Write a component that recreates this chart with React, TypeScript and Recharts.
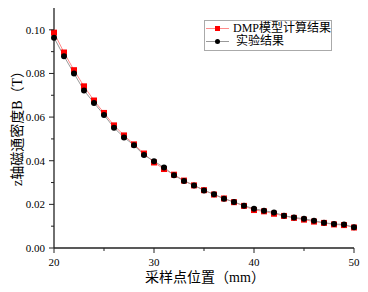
import React from 'react';
import { LineChart, Line, XAxis, YAxis, Legend } from 'recharts';

const positions = [20,21,22,23,24,25,26,27,28,29,30,31,32,33,34,35,36,37,38,39,40,41,42,43,44,45,46,47,48,49,50];
const dmpValues = [0.0987,0.0896,0.0815,0.0741,0.0676,0.0619,0.0562,0.0516,0.0475,0.0433,0.0392,0.0362,0.0336,0.0309,0.0287,0.0265,0.0245,0.0227,0.0210,0.0193,0.0174,0.0168,0.0157,0.0147,0.0138,0.0130,0.0121,0.0115,0.0108,0.0105,0.0094];
const expValues = [0.0964,0.0879,0.0800,0.0722,0.0665,0.0610,0.0551,0.0507,0.0471,0.0426,0.0398,0.0369,0.0334,0.0307,0.0287,0.0264,0.0246,0.0226,0.0211,0.0194,0.0180,0.0171,0.0163,0.0148,0.0140,0.0134,0.0125,0.0116,0.0110,0.0108,0.0095];
const xTicks = [20,25,30,35,40,45,50];
const xMajor = [20,30,40,50];
const yTicks = [0,0.01,0.02,0.03,0.04,0.05,0.06,0.07,0.08,0.09,0.10];
const yMajor = [0,0.02,0.04,0.06,0.08,0.10];
const seriesNames = ['DMP模型计算结果', '实验结果'];
const xTitle = '采样点位置（mm）';
const yTitle = 'z轴磁通密度B（T）';

const data = positions.map((p, i) => ({ x: p, dmp: dmpValues[i], exp: expValues[i] }));

const TICK_FONT = "'Liberation Serif', 'Noto Sans CJK SC', serif";
const LABEL_FONT = "'Liberation Serif', 'Noto Sans CJK SC', serif";
const AXIS = '#222';

const isMajor = (v: number, list: number[]) => list.some((m) => Math.abs(m - v) < 1e-9);

const XTick = (props: any) => {
  const { x, y, payload } = props;
  const major = isMajor(payload.value, xMajor);
  return (
    <g>
      <line x1={x} x2={x} y1={y} y2={y + (major ? 5 : 3)} stroke={AXIS} strokeWidth={1} />
      {major && (
        <text x={x} y={y + 18} textAnchor="middle" fontSize={11} fontFamily={TICK_FONT} fill="#000">
          {payload.value}
        </text>
      )}
    </g>
  );
};

const YTick = (props: any) => {
  const { x, y, payload } = props;
  const major = isMajor(payload.value, yMajor);
  return (
    <g>
      <line x1={x} x2={x - (major ? 5 : 3)} y1={y} y2={y} stroke={AXIS} strokeWidth={1} />
      {major && (
        <text x={x - 9} y={y} dy="0.35em" textAnchor="end" fontSize={11} fontFamily={TICK_FONT} fill="#000">
          {Number(payload.value).toFixed(2)}
        </text>
      )}
    </g>
  );
};

const RedSquare = (props: any) => {
  const { cx, cy, index } = props;
  if (cx == null || cy == null) return <g key={`r${index}`} />;
  return <rect key={`r${index}`} x={cx - 3} y={cy - 3} width={6} height={6} fill="#ff0000" />;
};

const BlackDot = (props: any) => {
  const { cx, cy, index } = props;
  if (cx == null || cy == null) return <g key={`b${index}`} />;
  return <circle key={`b${index}`} cx={cx} cy={cy} r={3} fill="#000" />;
};

const LegendBox = () => (
  <div
    style={{
      border: '1px solid #aaa',
      background: '#fff',
      width: 126,
      padding: '1px 0 2px 0',
      fontFamily: LABEL_FONT,
      fontSize: 12,
      lineHeight: '13px',
      color: '#000',
    }}
  >
    {[0, 1].map((i) => (
      <div key={i} style={{ display: 'flex', alignItems: 'center', height: 13 }}>
        <svg width={30} height={13} style={{ display: 'block' }}>
          <line x1={1} x2={24} y1={6.5} y2={6.5} stroke={i === 0 ? '#ff8a8a' : '#999'} strokeWidth={1} />
          {i === 0 ? (
            <rect x={10} y={4} width={5} height={5} fill="#ff0000" />
          ) : (
            <circle cx={12.5} cy={6.5} r={2.5} fill="#000" />
          )}
        </svg>
        <span style={{ marginLeft: 1, whiteSpace: 'nowrap' }}>{seriesNames[i]}</span>
      </div>
    ))}
  </div>
);

export default function App() {
  return (
    <div style={{ position: 'absolute', left: 0, top: 0, width: 368, height: 292, background: '#fff' }}>
      <LineChart width={368} height={292} data={data} margin={{ top: 8, right: 14, left: 0, bottom: 0 }}>
        <XAxis
          dataKey="x"
          type="number"
          domain={[20, 50]}
          ticks={xTicks}
          interval={0}
          height={44}
          tickSize={0}
          tickMargin={0}
          tickLine={false}
          axisLine={{ stroke: AXIS, strokeWidth: 1.3 }}
          tick={<XTick />}
          label={{
            content: () => (
              <text x={205} y={282} textAnchor="middle" fontSize={14} fontFamily={LABEL_FONT} fill="#000">
                {xTitle}
              </text>
            ),
          }}
        />
        <XAxis
          xAxisId="top"
          dataKey="x"
          type="number"
          domain={[20, 50]}
          orientation="top"
          height={0}
          tick={false}
          tickLine={false}
          axisLine={{ stroke: AXIS, strokeWidth: 1.3 }}
        />
        <YAxis
          type="number"
          domain={[0, 0.11]}
          ticks={yTicks}
          interval={0}
          width={54}
          tickSize={0}
          tickMargin={0}
          tickLine={false}
          axisLine={{ stroke: AXIS, strokeWidth: 1.3 }}
          tick={<YTick />}
          label={{
            content: () => (
              <text
                x={17}
                y={125}
                transform="rotate(-90, 17, 125)"
                textAnchor="middle"
                dominantBaseline="central"
                fontSize={14}
                fontFamily={LABEL_FONT}
                fill="#000"
              >
                {yTitle}
              </text>
            ),
          }}
        />
        <YAxis
          yAxisId="right"
          orientation="right"
          domain={[0, 0.11]}
          width={0}
          tick={false}
          tickLine={false}
          axisLine={{ stroke: AXIS, strokeWidth: 1.3 }}
        />
        <Legend
          layout="vertical"
          align="center"
          verticalAlign="middle"
          content={() => <LegendBox />}
          wrapperStyle={{ position: 'absolute', left: 204, top: 20, width: 128, height: 'auto' }}
        />
        <Line
          dataKey="dmp"
          name={seriesNames[0]}
          stroke="#ff8a8a"
          strokeWidth={1}
          dot={RedSquare}
          activeDot={false}
          isAnimationActive={false}
        />
        <Line
          dataKey="exp"
          name={seriesNames[1]}
          stroke="#999"
          strokeWidth={1}
          dot={BlackDot}
          activeDot={false}
          isAnimationActive={false}
        />
      </LineChart>
    </div>
  );
}
